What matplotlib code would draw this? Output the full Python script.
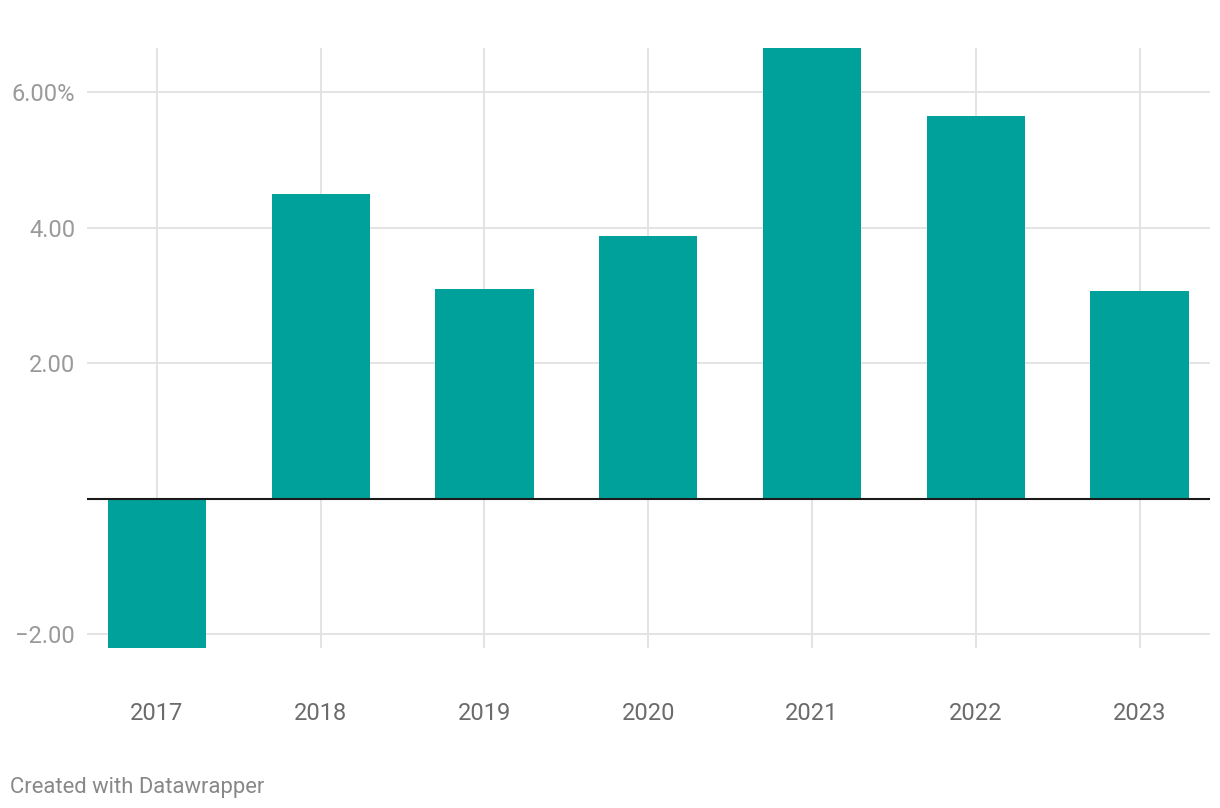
import matplotlib
matplotlib.use('Agg')
import matplotlib.pyplot as plt

years = ['2017', '2018', '2019', '2020', '2021', '2022', '2023']
growth = [-2.2, 4.5, 3.1, 3.88, 6.65, 5.65, 3.07]
yticks = [-2, 2, 4, 6]
ytick_labels = ['\u22122.00', '2.00', '4.00', '6.00%']

plt.rcParams['font.family'] = ['Roboto', 'DejaVu Sans']

fig = plt.figure(figsize=(12.2, 8.08), dpi=100)
ax = fig.add_axes([87/1220, 160/808, 1123/1220, 600/808])

x = list(range(len(years)))
ax.bar(x, growth, width=0.6, color='#00a19a', zorder=3)
ax.axhline(0, color='#1a1a1a', lw=1.5, zorder=4)

ax.set_xlim(-0.427, 6.43)
ax.set_ylim(-2.2, 6.65)
ax.set_yticks(yticks)
ax.set_yticklabels(ytick_labels)
ax.set_xticks(x)
ax.set_xticklabels(years)

ax.grid(True, color='#e2e2e2', lw=1.3, zorder=0)
for s in ax.spines.values():
    s.set_visible(False)
ax.tick_params(axis='y', length=0, pad=8.5, labelsize=17, labelcolor='#9a9a9a')
ax.tick_params(axis='x', length=0, pad=39, labelsize=17, labelcolor='#6b6b6b')

fig.text(10/1220, 1 - 787/808, 'Created with Datawrapper', fontsize=15.8,
         color='#888888', ha='left', va='center')

fig.savefig('out.png', dpi=100, facecolor='white')
